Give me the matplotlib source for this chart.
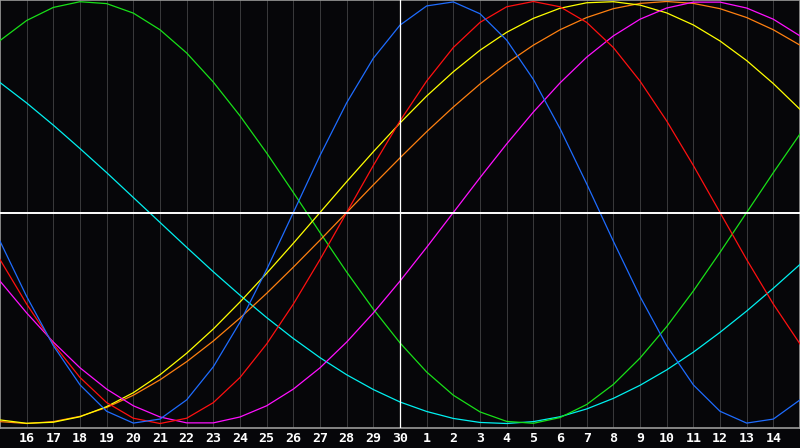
import matplotlib
matplotlib.use("Agg")
import matplotlib.pyplot as plt

# day slots (index 0 .. 30 spans the 15th to the 15th of the next month)
days = list(range(31))
tick_pos = list(range(1, 30))
tick_labels = ["16", "17", "18", "19", "20", "21", "22", "23", "24", "25",
               "26", "27", "28", "29", "30", "1", "2", "3", "4", "5", "6",
               "7", "8", "9", "10", "11", "12", "13", "14"]
today_index = 15

physical = [-0.136, -0.398, -0.631, -0.817, -0.942, -0.998, -0.979, -0.888,
            -0.731, -0.520, -0.270, 0.000, 0.270, 0.520, 0.731, 0.888, 0.979,
            0.998, 0.942, 0.817, 0.631, 0.398, 0.136, -0.136, -0.398, -0.631,
            -0.817, -0.942, -0.998, -0.979, -0.888]
emotional = [-0.223, -0.434, -0.623, -0.782, -0.901, -0.975, -1.000, -0.975,
             -0.901, -0.782, -0.623, -0.434, -0.223, 0.000, 0.223, 0.434,
             0.623, 0.782, 0.901, 0.975, 1.000, 0.975, 0.901, 0.782, 0.623,
             0.434, 0.223, 0.000, -0.223, -0.434, -0.623]
intellectual = [0.815, 0.910, 0.972, 0.999, 0.990, 0.945, 0.866, 0.756, 0.618,
                0.458, 0.282, 0.095, -0.095, -0.282, -0.458, -0.618, -0.756,
                -0.866, -0.945, -0.990, -0.999, -0.972, -0.910, -0.815, -0.690,
                -0.541, -0.372, -0.189, 0.000, 0.189, 0.372]
intuitive = [-0.325, -0.476, -0.614, -0.736, -0.837, -0.916, -0.969, -0.997,
             -0.997, -0.969, -0.916, -0.837, -0.736, -0.614, -0.476, -0.325,
             -0.165, 0.000, 0.165, 0.325, 0.476, 0.614, 0.736, 0.837, 0.916,
             0.969, 0.997, 0.997, 0.969, 0.916, 0.837]
aesthetic = [-0.983, -0.999, -0.994, -0.968, -0.920, -0.854, -0.769, -0.667,
             -0.552, -0.424, -0.288, -0.146, 0.000, 0.146, 0.288, 0.424, 0.552,
             0.667, 0.769, 0.854, 0.920, 0.968, 0.994, 0.999, 0.983, 0.946,
             0.889, 0.813, 0.720, 0.611, 0.489]
awareness = [-0.991, -1.000, -0.991, -0.966, -0.924, -0.866, -0.793, -0.707,
             -0.609, -0.500, -0.383, -0.259, -0.131, 0.000, 0.131, 0.259,
             0.383, 0.500, 0.609, 0.707, 0.793, 0.866, 0.924, 0.966, 0.991,
             1.000, 0.991, 0.966, 0.924, 0.866, 0.793]
spiritual = [0.616, 0.519, 0.414, 0.303, 0.189, 0.071, -0.047, -0.165, -0.281,
             -0.392, -0.498, -0.597, -0.688, -0.769, -0.839, -0.898, -0.943,
             -0.976, -0.995, -1.000, -0.991, -0.968, -0.931, -0.881, -0.819,
             -0.746, -0.662, -0.568, -0.467, -0.359, -0.246]

series = [
    (spiritual, "#00f0f0"),
    (intellectual, "#18e018"),
    (awareness, "#ff8010"),
    (aesthetic, "#ffff00"),
    (intuitive, "#ff10ff"),
    (emotional, "#ff1010"),
    (physical, "#1e6cff"),
]

bg = "#060609"
fig = plt.figure(figsize=(8, 4.48), dpi=100, facecolor=bg)
ax = fig.add_axes([0, 20 / 448, 1, 428 / 448])
ax.set_facecolor(bg)

ax.set_xlim(0, 30)
ax.set_ylim(-1.0213, 1.0071)

for x in tick_pos:
    ax.axvline(x, color="#38383a", lw=0.72, zorder=1)

for vals, col in series:
    ax.plot(days, vals, color=col, lw=0.9, zorder=3)

ax.axhline(0, color="white", lw=1.4, zorder=5)
ax.axvline(today_index, color="white", lw=0.9, zorder=5)

for s in ax.spines.values():
    s.set_color("#9a9a9a")
    s.set_linewidth(1.2)

ax.set_yticks([])
ax.set_xticks(tick_pos)
ax.set_xticklabels(tick_labels, family="DejaVu Sans Mono", weight="bold",
                   fontsize=9.5, color="white")
ax.tick_params(axis="x", length=0, pad=3)

fig.savefig("out.png", dpi=100, facecolor=bg)
